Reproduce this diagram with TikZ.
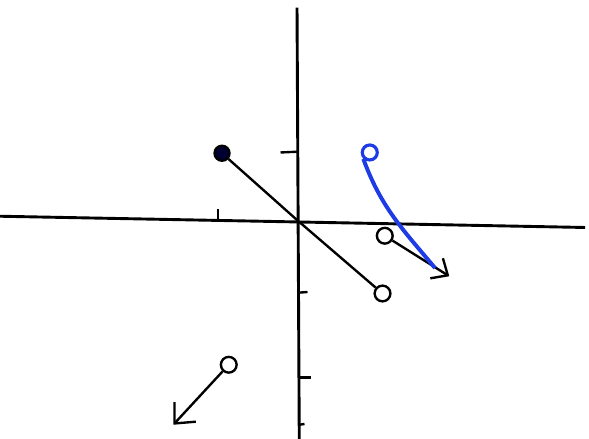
\documentclass[tikz,border=0pt]{standalone}
\usetikzlibrary{arrows.meta}
\definecolor{penblue}{RGB}{30,60,230}
\begin{document}
\begin{tikzpicture}[
    axis/.style={line width=1.1pt},
    seg/.style={line width=0.9pt},
    opendot/.style={draw, circle, line width=0.9pt, inner sep=0pt, minimum size=0.21cm},
    fulldot/.style={draw, circle, line width=0.9pt, fill=black!80!blue, inner sep=0pt, minimum size=0.2cm}]
    \useasboundingbox (-3.96,-2.92) rectangle (3.893,2.933);

    % axes
    \coordinate (xl) at (-3.96,0.05);
    \coordinate (xr) at (3.84,-0.1);
    \coordinate (yt) at (0,2.83);
    \coordinate (yb) at (0.03,-2.92);
    \coordinate (o) at (0,0);
    \draw[axis] (xl) -- (xr);
    \draw[axis] (yt) -- (yb);

    % ticks
    \draw[seg] (-1.05,0.0) -- (-1.05,0.14);
    \draw[seg] (-0.22,0.9) -- (0,0.91);
    \draw[seg] (0.01,-0.97) -- (0.14,-0.96);
    \draw[seg] (0.02,-2.1) -- (0.18,-2.1);
    \draw[seg] (0.03,-2.73) -- (0.1,-2.72);

    % points
    \node[fulldot] (p) at (-1.0,0.89) {};
    \node[opendot] (q) at (1.14,-0.98) {};
    \node[opendot] (r) at (1.17,-0.21) {};
    \node[opendot] (s) at (-0.91,-1.93) {};
    \coordinate (rt) at (2.03,-0.75);
    \coordinate (st) at (-1.65,-2.73);

    \draw[seg] (p) -- (o) -- (q);
    \draw[seg, -{Straight Barb[length=5pt, width=9pt]}] (r) -- (rt);
    \draw[seg, -{Straight Barb[length=6pt, width=11pt]}] (s) -- (st);

    % blue stroke
    \node[draw=penblue, circle, line width=1.2pt, inner sep=0pt, minimum width=0.2cm, minimum height=0.17cm] (g) at (0.97,0.9) {};
    \coordinate (ge) at (1.84,-0.64);
    \draw[penblue, line width=1.5pt] (g.south west) to[out=-70, in=130] (ge);
\end{tikzpicture}
\end{document}
